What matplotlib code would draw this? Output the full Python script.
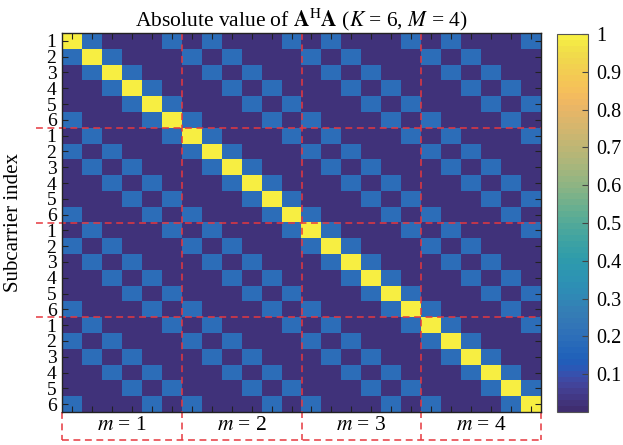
import numpy as np
import matplotlib
matplotlib.use("Agg")
import matplotlib.pyplot as plt
from matplotlib.colors import ListedColormap

plt.rcParams['font.family'] = ['Liberation Serif', 'DejaVu Serif']
plt.rcParams['mathtext.fontset'] = 'stix'

# MATLAB parula, 64 entries
parula_rgb = np.array([
    [0.2081, 0.1663, 0.5292], [0.2116, 0.1898, 0.5777], [0.2123, 0.2138, 0.6270], [0.2081, 0.2386, 0.6771],
    [0.1959, 0.2645, 0.7279], [0.1707, 0.2919, 0.7792], [0.1253, 0.3242, 0.8303], [0.0591, 0.3598, 0.8683],
    [0.0117, 0.3875, 0.8820], [0.0060, 0.4086, 0.8828], [0.0165, 0.4266, 0.8786], [0.0329, 0.4430, 0.8720],
    [0.0498, 0.4586, 0.8641], [0.0629, 0.4737, 0.8554], [0.0723, 0.4887, 0.8467], [0.0779, 0.5040, 0.8384],
    [0.0793, 0.5200, 0.8312], [0.0749, 0.5375, 0.8263], [0.0641, 0.5570, 0.8240], [0.0488, 0.5772, 0.8228],
    [0.0343, 0.5966, 0.8199], [0.0265, 0.6137, 0.8135], [0.0239, 0.6287, 0.8038], [0.0231, 0.6418, 0.7913],
    [0.0228, 0.6535, 0.7768], [0.0267, 0.6642, 0.7607], [0.0384, 0.6743, 0.7436], [0.0590, 0.6838, 0.7254],
    [0.0843, 0.6928, 0.7062], [0.1133, 0.7015, 0.6859], [0.1453, 0.7098, 0.6646], [0.1801, 0.7177, 0.6424],
    [0.2178, 0.7250, 0.6193], [0.2586, 0.7317, 0.5954], [0.3022, 0.7376, 0.5712], [0.3482, 0.7424, 0.5473],
    [0.3953, 0.7459, 0.5244], [0.4420, 0.7481, 0.5033], [0.4871, 0.7491, 0.4840], [0.5300, 0.7491, 0.4661],
    [0.5709, 0.7485, 0.4494], [0.6099, 0.7473, 0.4337], [0.6473, 0.7456, 0.4188], [0.6834, 0.7435, 0.4044],
    [0.7184, 0.7411, 0.3905], [0.7525, 0.7384, 0.3768], [0.7858, 0.7356, 0.3633], [0.8185, 0.7327, 0.3498],
    [0.8507, 0.7299, 0.3360], [0.8824, 0.7274, 0.3217], [0.9139, 0.7258, 0.3063], [0.9450, 0.7261, 0.2886],
    [0.9739, 0.7314, 0.2666], [0.9938, 0.7455, 0.2403], [0.9990, 0.7653, 0.2164], [0.9955, 0.7861, 0.1967],
    [0.9880, 0.8066, 0.1794], [0.9789, 0.8271, 0.1633], [0.9697, 0.8481, 0.1475], [0.9626, 0.8705, 0.1309],
    [0.9589, 0.8949, 0.1132], [0.9598, 0.9218, 0.0948], [0.9661, 0.9514, 0.0755], [0.9763, 0.9831, 0.0538],
])
# slightly muted, as in print
lum = parula_rgb @ np.array([0.299, 0.587, 0.114])
muted = 0.74 * parula_rgb + 0.26 * lum[:, None]
muted[:, 0] = np.clip(muted[:, 0] + 0.04, 0, 1)
muted = np.clip(muted * 0.98, 0, 1)
parula = ListedColormap(muted)

K = 6
M = 4

# |A^H A| within one block (same m) and between blocks (different m)
same_block = [
    [1.00, 0.19, 0.02, 0.02, 0.02, 0.19],
    [0.19, 1.00, 0.19, 0.02, 0.02, 0.02],
    [0.02, 0.19, 1.00, 0.19, 0.02, 0.02],
    [0.02, 0.02, 0.19, 1.00, 0.19, 0.02],
    [0.02, 0.02, 0.02, 0.19, 1.00, 0.19],
    [0.19, 0.02, 0.02, 0.02, 0.19, 1.00],
]
cross_block = [
    [0.02, 0.19, 0.02, 0.02, 0.02, 0.19],
    [0.19, 0.02, 0.19, 0.02, 0.02, 0.02],
    [0.02, 0.19, 0.02, 0.19, 0.02, 0.02],
    [0.02, 0.02, 0.19, 0.02, 0.19, 0.02],
    [0.02, 0.02, 0.02, 0.19, 0.02, 0.19],
    [0.19, 0.02, 0.02, 0.02, 0.19, 0.02],
]
block_labels = ['1', '2', '3', '4']
row_labels = ['1', '2', '3', '4', '5', '6']

G = np.block([[np.array(same_block if p == q else cross_block) for q in range(M)]
              for p in range(M)])
N = K * M

fig = plt.figure(figsize=(6.23, 4.45), dpi=100)
W, H = 623, 445
ax = fig.add_axes([62 / W, 1 - 412 / H, 479 / W, 379 / H])
cax = fig.add_axes([557 / W, 1 - 412 / H, 31 / W, 378 / H])

im = ax.imshow(G, cmap=parula, vmin=0, vmax=1, aspect='auto', interpolation='nearest')

ax.set_xticks(np.arange(N))
ax.set_xticklabels([])
ax.set_yticks(np.arange(N))
ax.set_yticklabels(row_labels * M, fontsize=14)
ax.tick_params(direction='in', top=True, right=True, length=4, width=0.8, pad=4,
               color='#222222')
for s in ax.spines.values():
    s.set_linewidth(1.0)
    s.set_color('#222222')
ax.set_ylabel('Subcarrier index', fontsize=15)
ax.yaxis.set_label_coords(-0.081, 0.5)
ax.set_title(r'Absolute value of $\mathbf{A}^{\mathrm{H}}\mathbf{A}$ ($K$ = 6, $M$ = 4)',
             fontsize=15.5, pad=4)

dash = dict(color='#e6383e', lw=1.1, ls=(0, (4.5, 3)), clip_on=False)
ybot = -28 / 379
left_ext = -26 / 479
for b in range(1, M):
    ax.plot([left_ext, 1], [b * K - 0.5] * 2, transform=ax.get_yaxis_transform(), **dash)
    ax.plot([b * K - 0.5] * 2, [1, ybot], transform=ax.get_xaxis_transform(), **dash)
for x in [-0.5, N - 0.5]:
    ax.plot([x, x], [0, ybot], transform=ax.get_xaxis_transform(), **dash)
ax.plot([0, 1], [ybot, ybot], transform=ax.transAxes, **dash)

for p, lab in enumerate(block_labels):
    ax.text(p * K + (K - 1) / 2, ybot / 2, '$m$ = ' + lab, transform=ax.get_xaxis_transform(),
            ha='center', va='center', fontsize=15.5)

cb = fig.colorbar(im, cax=cax, ticks=[0.1, 0.2, 0.3, 0.4, 0.5, 0.6, 0.7, 0.8, 0.9, 1])
cb.ax.set_yticklabels(['0.1', '0.2', '0.3', '0.4', '0.5', '0.6', '0.7', '0.8', '0.9', '1'])
cb.ax.tick_params(direction='in', length=4, width=0.8, labelsize=14.5, pad=6, color='#444444')
cb.outline.set_edgecolor('#555555')
cb.outline.set_linewidth(0.8)

fig.savefig('out.png', dpi=100)
